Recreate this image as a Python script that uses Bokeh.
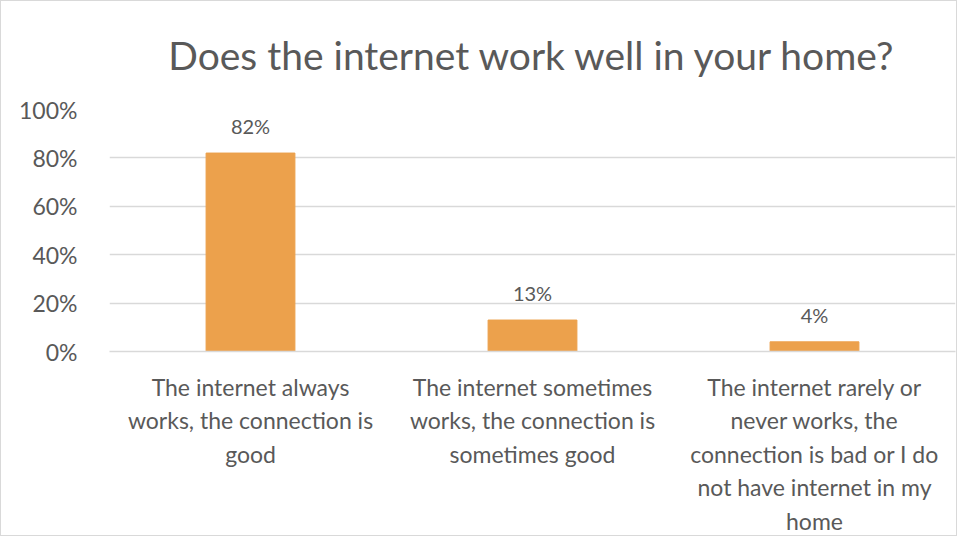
from bokeh.plotting import figure
from bokeh.models import FactorRange, NumeralTickFormatter, FixedTicker, ColumnDataSource
from bokeh.embed import file_html
from bokeh.resources import INLINE
from bokeh.core.properties import value

categories = [
    "The internet always\nworks, the connection is\ngood",
    "The internet sometimes\nworks, the connection is\nsometimes good",
    "The internet rarely or\nnever works, the\nconnection is bad or I do\nnot have internet in my\nhome",
]
values = [0.82, 0.13, 0.04]
value_labels = ["82%", "13%", "4%"]
y_ticks = [0, 0.2, 0.4, 0.6, 0.8, 1.0]

FONT = "Lato"
GREY = "#595959"

src = ColumnDataSource(dict(x=categories, top=values, label=value_labels))

p = figure(
    x_range=FactorRange(*categories, range_padding=0),
    y_range=(0, 1.0),
    width=957, height=536,
    output_backend="svg", toolbar_location=None,
    min_border_left=108, min_border_right=3, min_border_bottom=183, min_border_top=10,
    title="Does the internet work well in your home?",
)
p.styles = {"border": "1px solid #d9d9d9"}
p.title.align = "center"
p.title.vertical_align = "top"
p.title.text_font = FONT
p.title.text_font_style = "normal"
p.title.text_font_size = "39px"
p.title.text_color = GREY
p.title.standoff = 60

p.vbar(x="x", top="top", width=0.315, source=src, color="#ECA14C")
p.text(x="x", y="top", text="label", source=src, text_align="center",
       text_baseline="bottom", y_offset=-15, text_font=value(FONT),
       text_font_size="20px", text_color=GREY)

p.outline_line_color = None
p.xgrid.grid_line_color = None
p.ygrid.grid_line_color = "#D9D9D9"
p.ygrid.grid_line_width = 1.5
p.yaxis.ticker = FixedTicker(ticks=y_ticks)
p.yaxis.formatter = NumeralTickFormatter(format="0%")
p.yaxis.axis_line_color = None
p.yaxis.major_tick_line_color = None
p.yaxis.minor_tick_line_color = None
p.yaxis.major_label_text_font = FONT
p.yaxis.major_label_text_font_size = "23px"
p.yaxis.major_label_text_color = GREY
p.yaxis.major_label_standoff = 26

p.xaxis.axis_line_color = "#D9D9D9"
p.xaxis.axis_line_width = 1.5
p.xaxis.major_tick_line_color = None
p.xaxis.minor_tick_line_color = None
p.xaxis.major_label_text_font = FONT
p.xaxis.major_label_text_font_size = "23px"
p.xaxis.major_label_text_color = GREY
p.xaxis.major_label_standoff = 15
p.xaxis.major_label_orientation = "horizontal"

open("out.html", "w").write(file_html(p, INLINE))
